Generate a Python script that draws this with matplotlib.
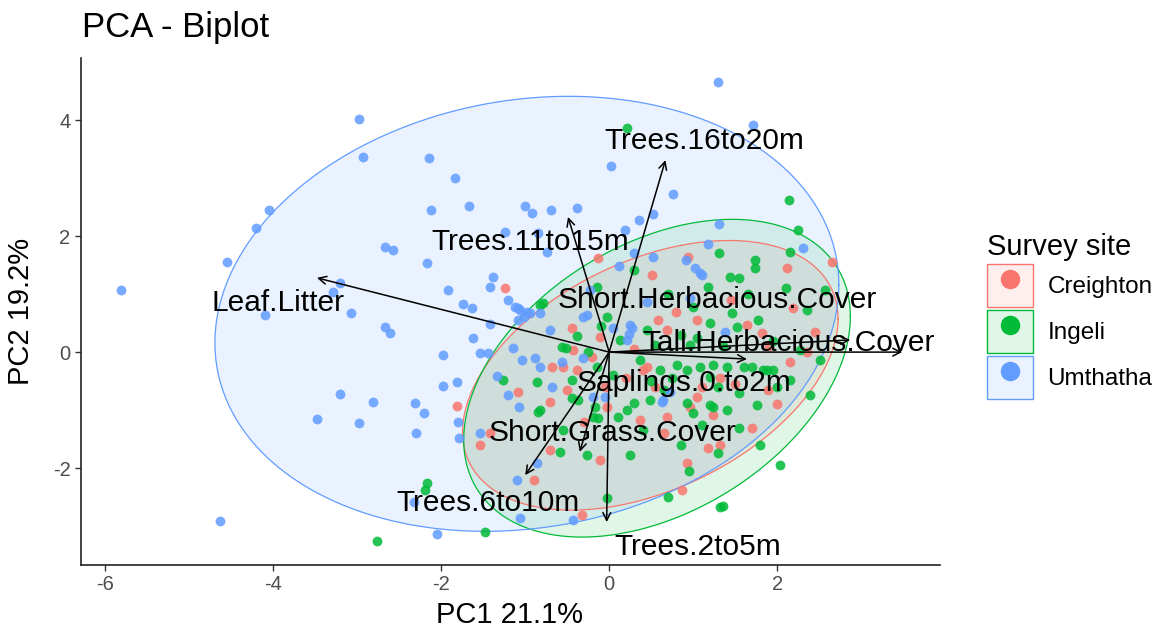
import numpy as np
import matplotlib
matplotlib.use('Agg')
import matplotlib.pyplot as plt
from matplotlib.patches import Patch
from matplotlib.lines import Line2D

plt.rcParams['font.family'] = ['Liberation Sans', 'DejaVu Sans']
plt.rcParams['axes.unicode_minus'] = False

# ---- scores (PC1, PC2) ----
umthatha_x = [-5.81, -4.55, -4.21, -4.05, -2.98, -2.93, -2.67, -2.58, -3.29, -3.20,
              -4.10, -3.07, -2.67, -2.61, -2.14, -1.83, -2.12, -1.67, -2.17, -1.38,
              -1.42, -1.92, -1.74, -1.63, 1.29, 1.71, -1.00, -0.92, -0.69, -0.38,
              0.02, 0.76, 0.52, 0.36, 0.19, 1.31, 1.18, -1.24, -0.85, -0.74,
              -1.62, -1.98, -1.08, -1.02, -0.98, -0.82, -1.42, -0.70, -0.26, 0.52,
              0.12, 0.92, 1.02, 1.08, 0.27, 0.21, 0.05, -1.21, -1.06, -1.12,
              -0.94, -1.08, -1.54, -1.44, -1.15, -1.04, -0.88, -0.82, -1.33, -1.98,
              -1.81, -2.31, -2.21, -2.30, -1.80, -1.79, -1.21, -1.07, -0.68, -0.56,
              -1.54, -3.21, -2.81, -3.48, -2.98, -4.64, -2.05, -2.33, -1.10, -0.86,
              -1.06, -0.43, 0.25, -0.31, -0.19, 0.64, 0.73, -0.05, -0.23, -0.31,
              0.63, 1.38, 0.96, 0.45, 2.31, 1.11, 0.29, 0.24]
umthatha_y = [1.07, 1.55, 2.14, 2.45, 4.02, 3.36, 1.81, 1.76, 1.03, 1.19,
              0.64, 0.67, 0.43, 0.33, 3.34, 3.00, 2.45, 2.52, 1.53, 1.29,
              1.12, 1.07, 0.83, 0.76, 4.66, 3.91, 2.52, 2.40, 2.45, 2.48,
              3.21, 2.72, 2.38, 2.28, 2.10, 2.21, 1.86, 2.07, 2.05, 1.72,
              0.24, -0.05, 0.76, 0.60, 0.69, 0.67, 0.48, 0.38, 0.64, 1.64,
              1.48, 1.59, 1.45, 1.36, 0.41, 0.21, 0.41, 0.90, 0.72, 0.78,
              0.67, 0.55, -0.02, -0.02, 0.07, -0.14, -0.10, -0.26, -0.41, -0.59,
              -0.52, -0.88, -1.05, -1.40, -1.21, -1.48, -0.74, -0.95, -0.60, -0.17,
              -1.40, -0.72, -0.86, -1.16, -1.22, -2.91, -3.14, -2.59, -2.21, -1.91,
              -2.86, -2.90, 0.47, -0.10, -0.78, -0.83, -0.69, -0.78, 1.07, 0.60,
              -0.86, 0.34, 0.93, 0.86, 1.79, 1.33, 1.71, 0.31]

ingeli_x = [0.21, 2.14, 2.25, 2.15, 1.31, 1.74, 1.74, 1.44, 1.54, 2.10,
            1.18, 0.29, -0.14, -0.02, 1.46, 1.77, 1.52, 1.20, 0.45, -0.38,
            -0.56, -0.82, 1.00, 1.76, 1.54, 2.04, 1.35, 1.40, 1.24, 1.83,
            1.70, 0.61, 0.81, 0.93, 1.08, 1.24, 1.40, 1.60, 1.88, 0.75,
            1.20, 0.49, 0.29, 0.93, 1.20, 1.00, 0.10, 0.21, 0.85, 0.25,
            1.29, -0.52, -0.44, -0.86, -0.37, -0.82, -0.58, -0.26, -0.02, 0.70,
            1.32, -2.17, -2.19, -1.48, -2.76, -0.17, -0.13, 1.95, -0.79, -1.27,
            -0.85, -0.44, -0.19, -0.14, 0.13, 0.55, 0.96, 0.37, 2.27, 2.51,
            2.15, 2.39, 2.35, 2.57, 0.50, 0.65, 1.30, 1.55, 0.05, -0.25,
            0.85, 1.05, 1.35, 1.95, 2.00, 0.40, 1.10, -0.55, 0.95, 1.80,
            -0.10, 0.70, 1.65]
ingeli_y = [3.86, 2.62, 2.10, 1.72, 1.71, 1.59, 1.45, 1.29, 1.28, 1.10,
            1.12, 1.41, 1.12, 0.60, 0.67, 0.55, 0.43, 0.50, 0.38, 0.28,
            0.09, 0.81, 0.78, -0.91, -1.31, -1.95, -2.66, -1.00, -0.95, -0.31,
            -0.26, -0.31, -0.22, -0.31, -0.26, -0.22, -0.26, -0.26, -0.31, -0.45,
            -0.43, -0.83, -0.88, -0.88, -0.91, -1.05, -1.12, -1.00, -1.60, -1.78,
            -1.74, 0.07, -0.48, -0.52, -0.83, -1.00, -1.72, -1.78, -2.52, -2.50,
            -2.67, -2.26, -2.38, -3.10, -3.26, -0.95, -1.14, -0.31, 0.84, -0.48,
            -1.03, -0.79, -1.12, -0.26, 0.21, 0.12, 0.12, -0.14, 0.03, -0.14,
            -0.48, -0.74, 0.72, 1.07, -0.50, -0.65, -0.60, -0.70, -0.40, 0.00,
            0.30, 0.25, 0.10, 0.20, -0.60, -1.35, -1.25, -1.35, -2.05, -1.60,
            0.45, 1.00, 1.00]

creighton_x = [-1.24, -0.44, -0.43, -0.68, -0.55, -0.38, -0.20, -1.08, -1.81, -0.70,
               -0.50, -1.54, -1.42, -0.11, -0.70, -0.11, -0.32, 0.93, 1.18, 0.87,
               2.15, 1.89, 0.96, 0.69, 0.45, 0.37, 1.32, 0.58, 1.05, 1.64,
               1.82, 1.32, 1.05, 1.24, -0.02, 0.69, 0.51, 0.94, 2.12, -0.13,
               2.65, 2.19, 2.36, 0.40, 0.55, 1.10, 1.50, 0.20, -0.05, 0.80,
               1.45, 0.30, 1.90, 2.45, 0.65, -0.30, -0.90, 1.70, 2.00]
creighton_y = [1.10, 0.41, 0.03, -0.26, -0.26, -0.31, -0.09, -0.69, -0.93, -0.86,
               -0.66, -1.60, -1.40, 0.26, -1.69, -1.86, -2.81, -1.91, -1.66, -2.38,
               -0.17, -0.66, -0.95, -1.12, -0.26, -1.17, -1.60, 0.55, 0.55, 0.47,
               0.33, -0.45, -0.78, -1.09, -0.95, 0.38, 1.33, 1.64, 1.45, 1.62,
               1.55, 0.76, 0.00, -0.31, -0.60, -0.60, -0.55, -0.45, -0.60, 0.70,
               0.90, 0.05, 0.10, 0.35, -1.40, -1.20, -2.20, -1.30, -0.90]

# ---- variable loadings (arrow tips) and label positions ----
var_names = ['Leaf.Litter', 'Trees.16to20m', 'Trees.11to15m', 'Short.Herbacious.Cover',
             'Tall.Herbacious.Cover', 'Saplings.0.to2m', 'Short.Grass.Cover',
             'Trees.6to10m', 'Trees.2to5m']
var_x = [-3.48, 0.67, -0.49, 2.87, 3.49, 1.64, -0.35, -1.00, -0.03]
var_y = [1.28, 3.31, 2.33, 0.21, 0.00, -0.12, -1.72, -2.12, -2.93]
lab_x = [-3.94, 1.13, -0.94, 1.29, 2.14, 0.89, 0.04, -1.44, 1.05]
lab_y = [0.84, 3.64, 1.90, 0.90, 0.16, -0.53, -1.40, -2.60, -3.36]

# ---- normal data ellipses: centre and covariance (scaled) ----
sites = ['Creighton', 'Ingeli', 'Umthatha']
site_colors = ['#F8766D', '#00BA38', '#619CFF']
ell_center = [(0.49, -0.40), (0.57, -0.45), (-0.98, 0.66)]
ell_cov = [[[5.0, 2.18], [2.18, 5.4]],
           [[5.3, 2.45], [2.45, 7.5]],
           [[13.8, 1.86], [1.86, 14.06]]]

fig = plt.figure(figsize=(11.63, 6.43), dpi=100)
ax = fig.add_axes([0.0696, 0.1213, 0.7387, 0.7885])

t = np.linspace(0, 2 * np.pi, 200)
circ = np.vstack([np.cos(t), np.sin(t)])
for cen, cov, col in zip(ell_center, ell_cov, site_colors):
    L = np.linalg.cholesky(np.array(cov))
    pts = L @ circ
    ex = pts[0] + cen[0]
    ey = pts[1] + cen[1]
    ax.fill(ex, ey, color=col, alpha=0.12, lw=0, zorder=1)
    ax.plot(ex, ey, color=col, lw=0.9, zorder=2)

pts_x = [creighton_x, ingeli_x, umthatha_x]
pts_y = [creighton_y, ingeli_y, umthatha_y]
for px, py, col in zip(pts_x, pts_y, site_colors):
    ax.scatter(px, py, s=50, color=col, alpha=0.85, linewidths=0, zorder=3)

for vx, vy in zip(var_x, var_y):
    ax.annotate('', xy=(vx, vy), xytext=(0, 0),
                arrowprops=dict(arrowstyle='->', color='black', lw=1.1,
                                shrinkA=0, shrinkB=0, mutation_scale=14),
                zorder=4)
for name, lx, ly in zip(var_names, lab_x, lab_y):
    ax.text(lx, ly, name, ha='center', va='center', fontsize=21.5,
            color='black', zorder=5)

ax.set_xlim(-6.29, 3.94)
ax.set_ylim(-3.67, 5.07)
ax.set_xticks([-6, -4, -2, 0, 2])
ax.set_yticks([-2, 0, 2, 4])
ax.tick_params(labelsize=14.5, labelcolor='#4D4D4D', color='#333333',
               length=4, width=1)
for s in ['top', 'right']:
    ax.spines[s].set_visible(False)
for s in ['left', 'bottom']:
    ax.spines[s].set_linewidth(1.2)
    ax.spines[s].set_color('#222222')

fig.text(0.4385, 0.022, 'PC1 21.1%', ha='center', va='bottom', fontsize=21)
fig.text(0.006, 0.5156, 'PC2 19.2%', ha='left', va='center', fontsize=21,
         rotation=90)
fig.text(82 / 1163, 1 - 37 / 643, 'PCA - Biplot', ha='left', va='baseline',
         fontsize=25)

handles = []
for col in site_colors:
    box = Patch(facecolor=matplotlib.colors.to_rgba(col, 0.12), edgecolor=col, lw=1)
    dot = Line2D([], [], marker='o', linestyle='', color=col, markersize=13)
    handles.append((box, dot))
leg = fig.legend(handles, sites, loc='upper left', bbox_to_anchor=(0.838, 0.656),
                 frameon=False, fontsize=17.5, title='Survey site',
                 title_fontsize=21, handlelength=1.9, handleheight=2.35,
                 handletextpad=0.6, labelspacing=0.12, borderpad=0)
leg._legend_box.align = 'left'

fig.savefig('out.png', dpi=100)
